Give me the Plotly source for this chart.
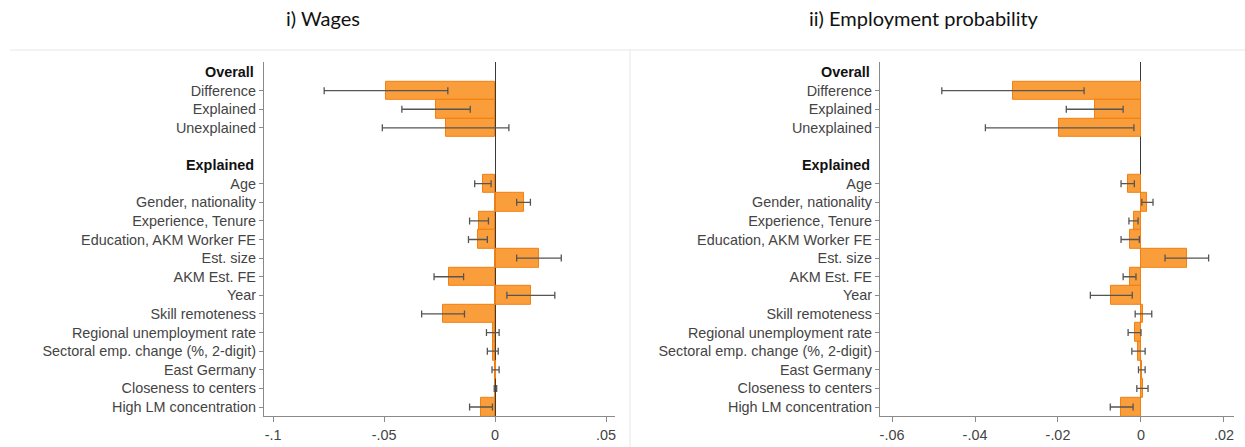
import plotly.graph_objects as go

# ---------------- data ----------------
overall_labels = ["Difference", "Explained", "Unexplained"]
explained_labels = ["Age", "Gender, nationality", "Experience, Tenure",
                    "Education, AKM Worker FE", "Est. size", "AKM Est. FE", "Year",
                    "Skill remoteness", "Regional unemployment rate",
                    "Sectoral emp. change (%, 2-digit)", "East Germany",
                    "Closeness to centers", "High LM concentration"]
group_headers = ["Overall", "Explained"]

wage_coef = [-0.0492, -0.0266, -0.0221,
             -0.0054, 0.0128, -0.0072, -0.0077, 0.0198, -0.0209, 0.0160,
             -0.0234, -0.0010, -0.0010, 0.0002, 0.0001, -0.0064]
wage_lo = [-0.0770, -0.0420, -0.0508,
           -0.0092, 0.0097, -0.0115, -0.0120, 0.0097, -0.0275, 0.0053,
           -0.0331, -0.0039, -0.0035, -0.0014, -0.0004, -0.0115]
wage_hi = [-0.0213, -0.0112, 0.0062,
           -0.0018, 0.0159, -0.0030, -0.0035, 0.0298, -0.0142, 0.0269,
           -0.0138, 0.0018, 0.0014, 0.0018, 0.0007, -0.0012]

emp_coef = [-0.0309, -0.0112, -0.0197,
            -0.0032, 0.0015, -0.0017, -0.0026, 0.0110, -0.0027, -0.0072,
            0.0006, -0.0014, -0.0006, 0.0002, 0.0004, -0.0047]
emp_lo = [-0.0480, -0.0180, -0.0375,
          -0.0048, 0.0002, -0.0029, -0.0048, 0.0058, -0.0043, -0.0122,
          -0.0014, -0.0031, -0.0022, -0.0006, -0.0010, -0.0074]
emp_hi = [-0.0137, -0.0043, -0.0017,
          -0.0016, 0.0029, -0.0007, -0.0004, 0.0163, -0.0012, -0.0021,
          0.0026, 0.0000, 0.0010, 0.0010, 0.0017, -0.0019]

wage_ticks = [-0.1, -0.05, 0, 0.05]
wage_ticktext = ["-.1", "-.05", "0", ".05"]
emp_ticks = [-0.06, -0.04, -0.02, 0, 0.02]
emp_ticktext = ["-.06", "-.04", "-.02", "0", ".02"]

panel_titles = ["i) Wages", "ii) Employment probability"]

# ---------------- row structure ----------------
header_rows = [0, len(overall_labels) + 2]
rows = list(range(1, 1 + len(overall_labels))) + \
       list(range(header_rows[1] + 1, header_rows[1] + 1 + len(explained_labels)))
labels = overall_labels + explained_labels

W, H = 1245, 447
BAR_FILL = "rgba(249,142,28,0.86)"
BAR_LINE = "rgb(242,128,18)"
FONT = "Liberation Sans, Arial, sans-serif"
TICK_SIZE = 14.4

fig = go.Figure()

panels = [
    dict(coef=wage_coef, lo=wage_lo, hi=wage_hi, ticks=wage_ticks, tt=wage_ticktext,
         rng=[-0.1041, 0.0540], px=(264, 615), xa="x", ya="y"),
    dict(coef=emp_coef, lo=emp_lo, hi=emp_hi, ticks=emp_ticks, tt=emp_ticktext,
         rng=[-0.0629, 0.0223], px=(880, 1233.5), xa="x2", ya="y2"),
]

y_top_px, y_bot_px = 61.8, 416.3
ydom = [1 - y_bot_px / H, 1 - y_top_px / H]

for i, p in enumerate(panels):
    plus = [max(h - c, 0) for c, h in zip(p["coef"], p["hi"])]
    minus = [max(c - l, 0) for c, l in zip(p["coef"], p["lo"])]
    fig.add_trace(go.Bar(
        x=p["coef"], y=rows, orientation="h", width=1.0,
        marker=dict(color=BAR_FILL, line=dict(color=BAR_LINE, width=1)),
        error_x=dict(type="data", symmetric=False, array=plus, arrayminus=minus,
                     color="#555555", thickness=1.3, width=3.5),
        xaxis=p["xa"], yaxis=p["ya"], showlegend=False, hoverinfo="x+y",
    ))
    xkey = "xaxis" if i == 0 else "xaxis2"
    ykey = "yaxis" if i == 0 else "yaxis2"
    fig.layout[xkey] = dict(
        domain=[p["px"][0] / W, p["px"][1] / W], range=p["rng"],
        anchor=p["ya"], showgrid=False, showline=True, linecolor="#8a8a8a", linewidth=1.3,
        ticks="outside", ticklen=5, tickwidth=1.2, tickcolor="#8a8a8a",
        tickvals=p["ticks"], ticktext=p["tt"],
        tickfont=dict(family=FONT, size=TICK_SIZE, color="#444444"),
        zeroline=True, zerolinecolor="#3a3a3a", zerolinewidth=1.4, fixedrange=True,
    )
    fig.layout[ykey] = dict(
        domain=ydom, range=[18.5, -0.55], anchor=p["xa"],
        showgrid=False, showline=True, linecolor="#8a8a8a", linewidth=1.3,
        ticks="outside", ticklen=4, tickwidth=1.2, tickcolor="#8a8a8a",
        tickvals=rows, ticktext=labels,
        tickfont=dict(family=FONT, size=TICK_SIZE, color="#444444"),
        zeroline=False, fixedrange=True,
    )
    for hr, ht in zip(header_rows, group_headers):
        fig.add_annotation(
            x=(p["px"][0] - 8) / W, xref="paper", xanchor="right",
            y=hr, yref=p["ya"], yanchor="middle",
            text="<b>" + ht + "</b>", showarrow=False,
            font=dict(family=FONT, size=TICK_SIZE, color="#111111"),
        )
    fig.add_annotation(
        x=[323, 924][i] / W, xref="paper", xanchor="center",
        y=1 - 18 / H, yref="paper", yanchor="middle",
        text=panel_titles[i], showarrow=False,
        font=dict(family="Lato, Open Sans, sans-serif", size=20, color="#111111"),
    )

# faint panel frame lines
fig.add_shape(type="line", xref="paper", yref="paper",
              x0=10 / W, x1=1.0, y0=1 - 50 / H, y1=1 - 50 / H,
              line=dict(color="#efefef", width=1.5))
fig.add_shape(type="line", xref="paper", yref="paper",
              x0=630 / W, x1=630 / W, y0=0, y1=1 - 50 / H,
              line=dict(color="#efefef", width=1.5))

fig.update_layout(
    width=W, height=H, margin=dict(l=0, r=0, t=0, b=0),
    paper_bgcolor="white", plot_bgcolor="white", bargap=0,
)

fig.write_html("out.html", config={"displayModeBar": False},
               post_script="document.body.style.margin='0px';")
